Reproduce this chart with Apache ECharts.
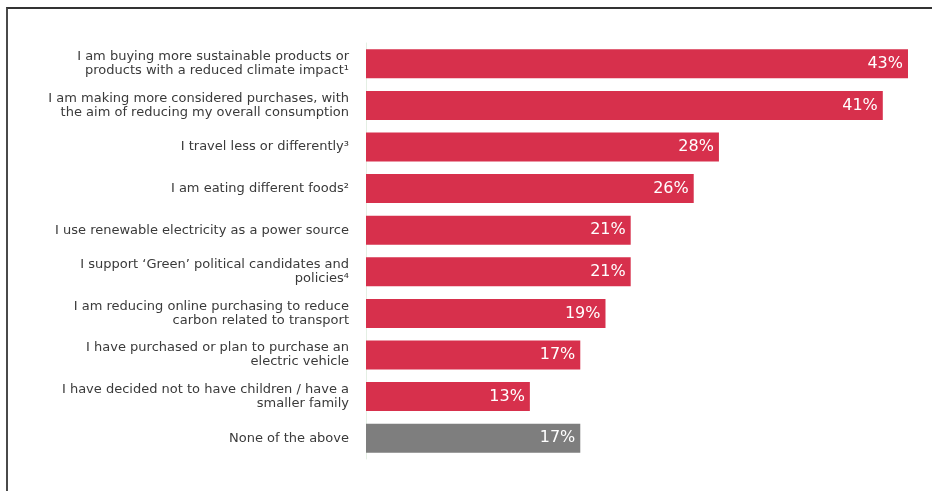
<!DOCTYPE html>
<html>
<head>
<meta charset="utf-8">
<script src="https://cdn.jsdelivr.net/npm/echarts@6/dist/echarts.min.js"></script>
<style>
  html, body { margin: 0; padding: 0; background: #fff; }
  #frame { position: absolute; left: 6px; top: 7px; width: 926px; height: 484px;
           border-left: 2px solid #4a4a4a; border-top: 2px solid #333; box-sizing: border-box; }
  #chart { position: absolute; left: 0; top: 0; width: 932px; height: 491px; }
</style>
</head>
<body>
<div id="frame"></div>
<div id="chart"></div>
<script>
const categories = [
  "I am buying more sustainable products or\nproducts with a reduced climate impact\u00B9",
  "I am making more considered purchases, with\nthe aim of reducing my overall consumption",
  "I travel less or differently\u00B3",
  "I am eating different foods\u00B2",
  "I use renewable electricity as a power source",
  "I support \u2018Green\u2019 political candidates and\npolicies\u2074",
  "I am reducing online purchasing to reduce\ncarbon related to transport",
  "I have purchased or plan to purchase an\nelectric vehicle",
  "I have decided not to have children / have a\nsmaller family",
  "None of the above"
];
const values = [43, 41, 28, 26, 21, 21, 19, 17, 13, 17];
const neutralCategory = "None of the above";

const RED = '#d7304c';
const GREY = '#7e7e7e';

const chart = echarts.init(document.getElementById('chart'), null, { renderer: 'canvas' });
chart.setOption({
  animation: false,
  backgroundColor: 'transparent',
  grid: { left: 366, right: 24, top: 43, bottom: 32 },
  xAxis: {
    type: 'value', min: 0, max: 43,
    show: false
  },
  yAxis: {
    type: 'category',
    data: categories,
    inverse: true,
    axisTick: { show: false },
    axisLine: { show: true, lineStyle: { color: '#e4efe4', width: 1 } },
    axisLabel: {
      color: '#3a3a3a',
      fontFamily: 'DejaVu Sans',
      fontSize: 13,
      lineHeight: 14,
      margin: 17,
      align: 'right'
    }
  },
  series: [{
    type: 'bar',
    data: values,
    barWidth: 29,
    itemStyle: {
      color: function (p) { return p.name === neutralCategory ? GREY : RED; }
    },
    label: {
      show: true,
      position: 'insideRight',
      distance: 5,
      color: '#fff',
      fontFamily: 'DejaVu Sans',
      fontSize: 16,
      formatter: '{c}%'
    }
  }]
});
</script>
</body>
</html>
